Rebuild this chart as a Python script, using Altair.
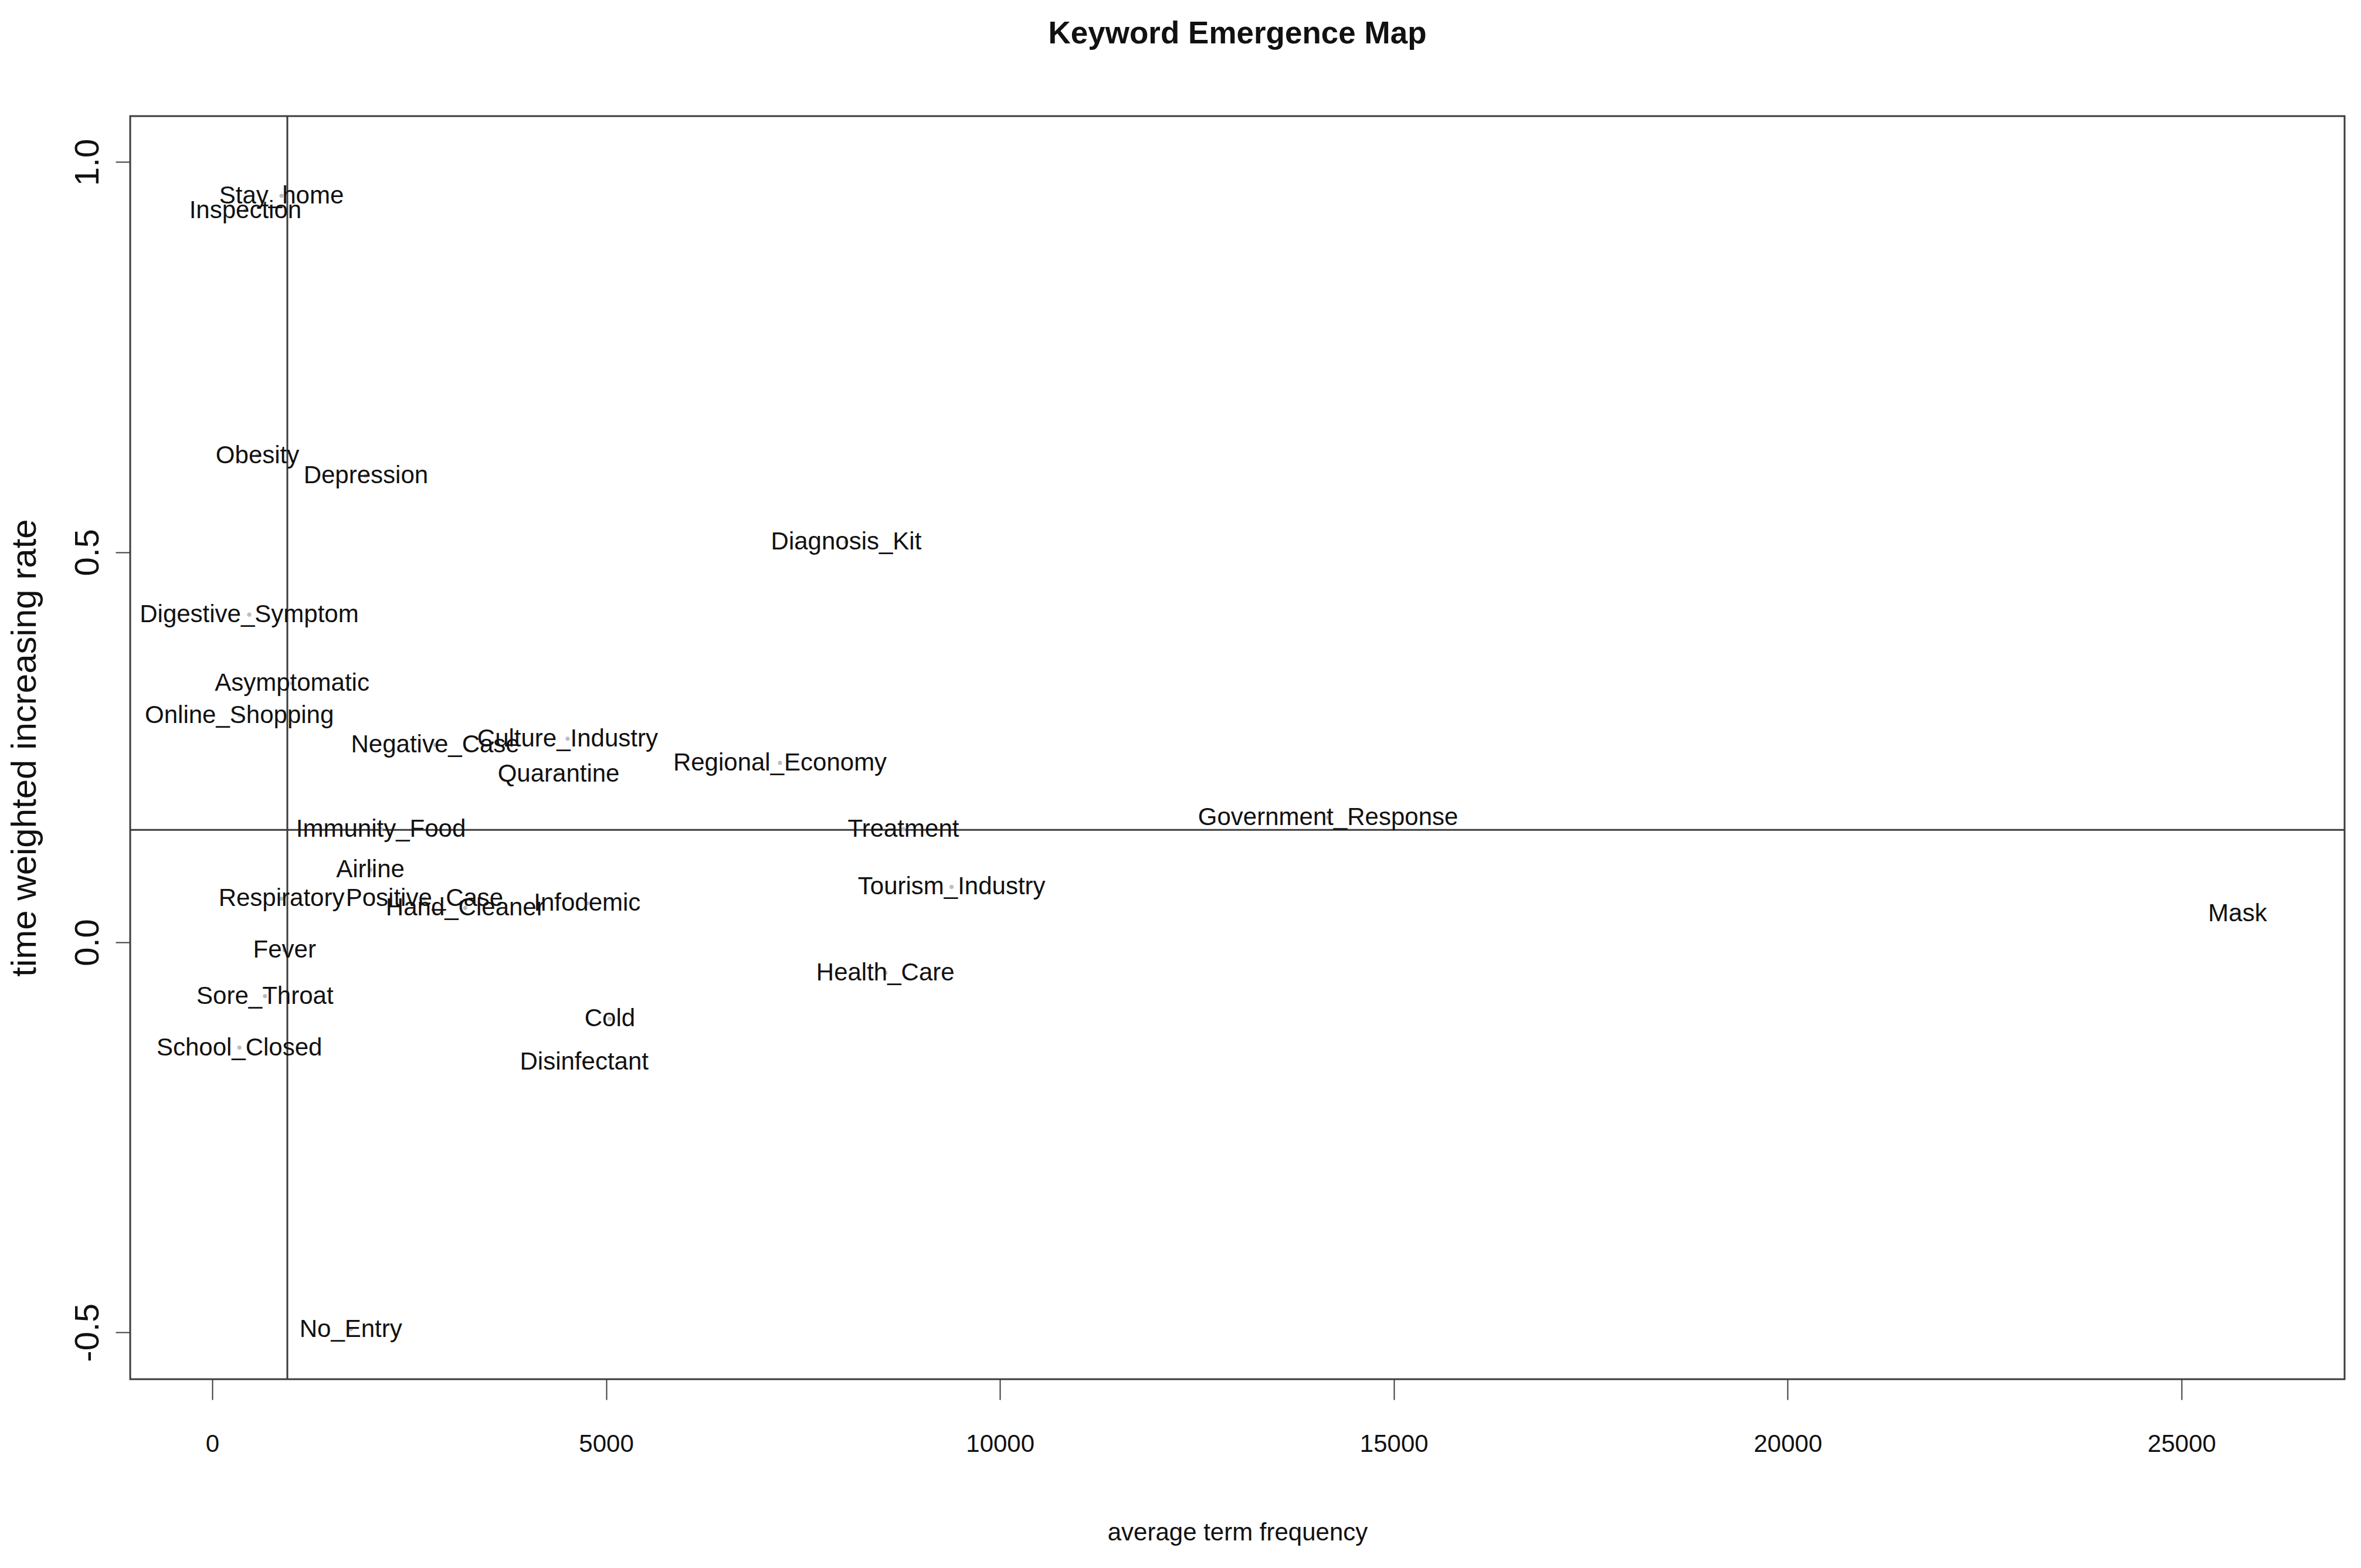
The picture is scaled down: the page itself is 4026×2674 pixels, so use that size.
import altair as alt
import pandas as pd

words = ["Stay_home", "Inspection", "Obesity", "Depression", "Diagnosis_Kit",
         "Digestive_Symptom", "Asymptomatic", "Online_Shopping", "Negative_Case",
         "Culture_Industry", "Quarantine", "Regional_Economy", "Immunity_Food",
         "Treatment", "Government_Response", "Airline", "Respiratory",
         "Positive_Case", "Hand_Cleaner", "Infodemic", "Tourism_Industry", "Mask",
         "Fever", "Health_Care", "Sore_Throat", "Cold", "School_Closed",
         "Disinfectant", "No_Entry"]
freq = [879, 420, 574, 1950, 8048,
        469, 1013, 344, 2830,
        4511, 4397, 7207, 2141,
        8774, 14165, 2007, 879,
        2695, 3211, 4760, 9386, 25711,
        918, 8545, 669, 5047, 344,
        4722, 1759]
rate = [0.957, 0.938, 0.624, 0.598, 0.513,
        0.420, 0.332, 0.291, 0.253,
        0.261, 0.216, 0.230, 0.145,
        0.145, 0.160, 0.093, 0.056,
        0.056, 0.044, 0.050, 0.071, 0.037,
        -0.010, -0.039, -0.069, -0.098, -0.135,
        -0.153, -0.496]

mean_freq = [953]
mean_rate = [0.144]

x_ticks = [0, 5000, 10000, 15000, 20000, 25000]
y_ticks = [-0.5, 0.0, 0.5, 1.0]

df = pd.DataFrame({"word": words, "freq": freq, "rate": rate})
vdf = pd.DataFrame({"v": mean_freq})
hdf = pd.DataFrame({"h": mean_rate})

FONT = "Liberation Sans, Arial, sans-serif"
LINE = "#3c3c3c"
TXT = "#111111"

xscale = alt.Scale(domain=[-1042, 27070], nice=False, zero=False)
yscale = alt.Scale(domain=[-0.560, 1.059], nice=False, zero=False)

xaxis = alt.Axis(values=x_ticks, title="average term frequency", grid=False,
                 domain=False, tickSize=35, tickWidth=2, tickColor=LINE,
                 format="d",
                 labelFont=FONT, labelFontSize=42, labelColor=TXT,
                 labelPadding=55, titleFont=FONT, titleFontSize=42,
                 titleFontWeight="normal", titleColor=TXT, titlePadding=110,
                 labelFlush=False)
yaxis = alt.Axis(values=y_ticks, title="time weighted increasing rate", grid=False,
                 domain=False, tickSize=25, tickWidth=2, tickColor=LINE,
                 labelFont=FONT, labelFontSize=58,
                 labelColor=TXT, labelAngle=270, labelPadding=18,
                 labelExpr="replace(format(datum.value, '.1f'), '\u2212', '-')",
                 titleFont=FONT, titleFontSize=60,
                 titleFontWeight="normal", titleColor=TXT, titlePadding=48,
                 labelFlush=False)

base = alt.Chart(df)

pts = base.mark_point(filled=True, color="#bdbdbd", size=50, opacity=1).encode(
    x=alt.X("freq:Q", scale=xscale, axis=xaxis),
    y=alt.Y("rate:Q", scale=yscale, axis=yaxis),
)

labels = base.mark_text(font=FONT, fontSize=42, color=TXT,
                        align="center", baseline="middle").encode(
    x=alt.X("freq:Q", scale=xscale),
    y=alt.Y("rate:Q", scale=yscale),
    text="word:N",
)

vrule = alt.Chart(vdf).mark_rule(color=LINE, strokeWidth=3).encode(
    x=alt.X("v:Q", scale=xscale)
)
hrule = alt.Chart(hdf).mark_rule(color=LINE, strokeWidth=3).encode(
    y=alt.Y("h:Q", scale=yscale)
)

chart = alt.layer(vrule, hrule, pts, labels).properties(
    width=3776,
    height=2154,
    background="white",
    title=alt.TitleParams("Keyword Emergence Map", font=FONT, fontSize=53,
                          fontWeight="bold", color=TXT, anchor="middle",
                          offset=112),
    autosize=alt.AutoSizeParams(type="none"),
    padding={"left": 214, "top": 190, "right": 20, "bottom": 300},
).configure_view(
    stroke=LINE, strokeWidth=3
)

chart.save("out.html", embed_options={"renderer": "svg", "actions": False})
